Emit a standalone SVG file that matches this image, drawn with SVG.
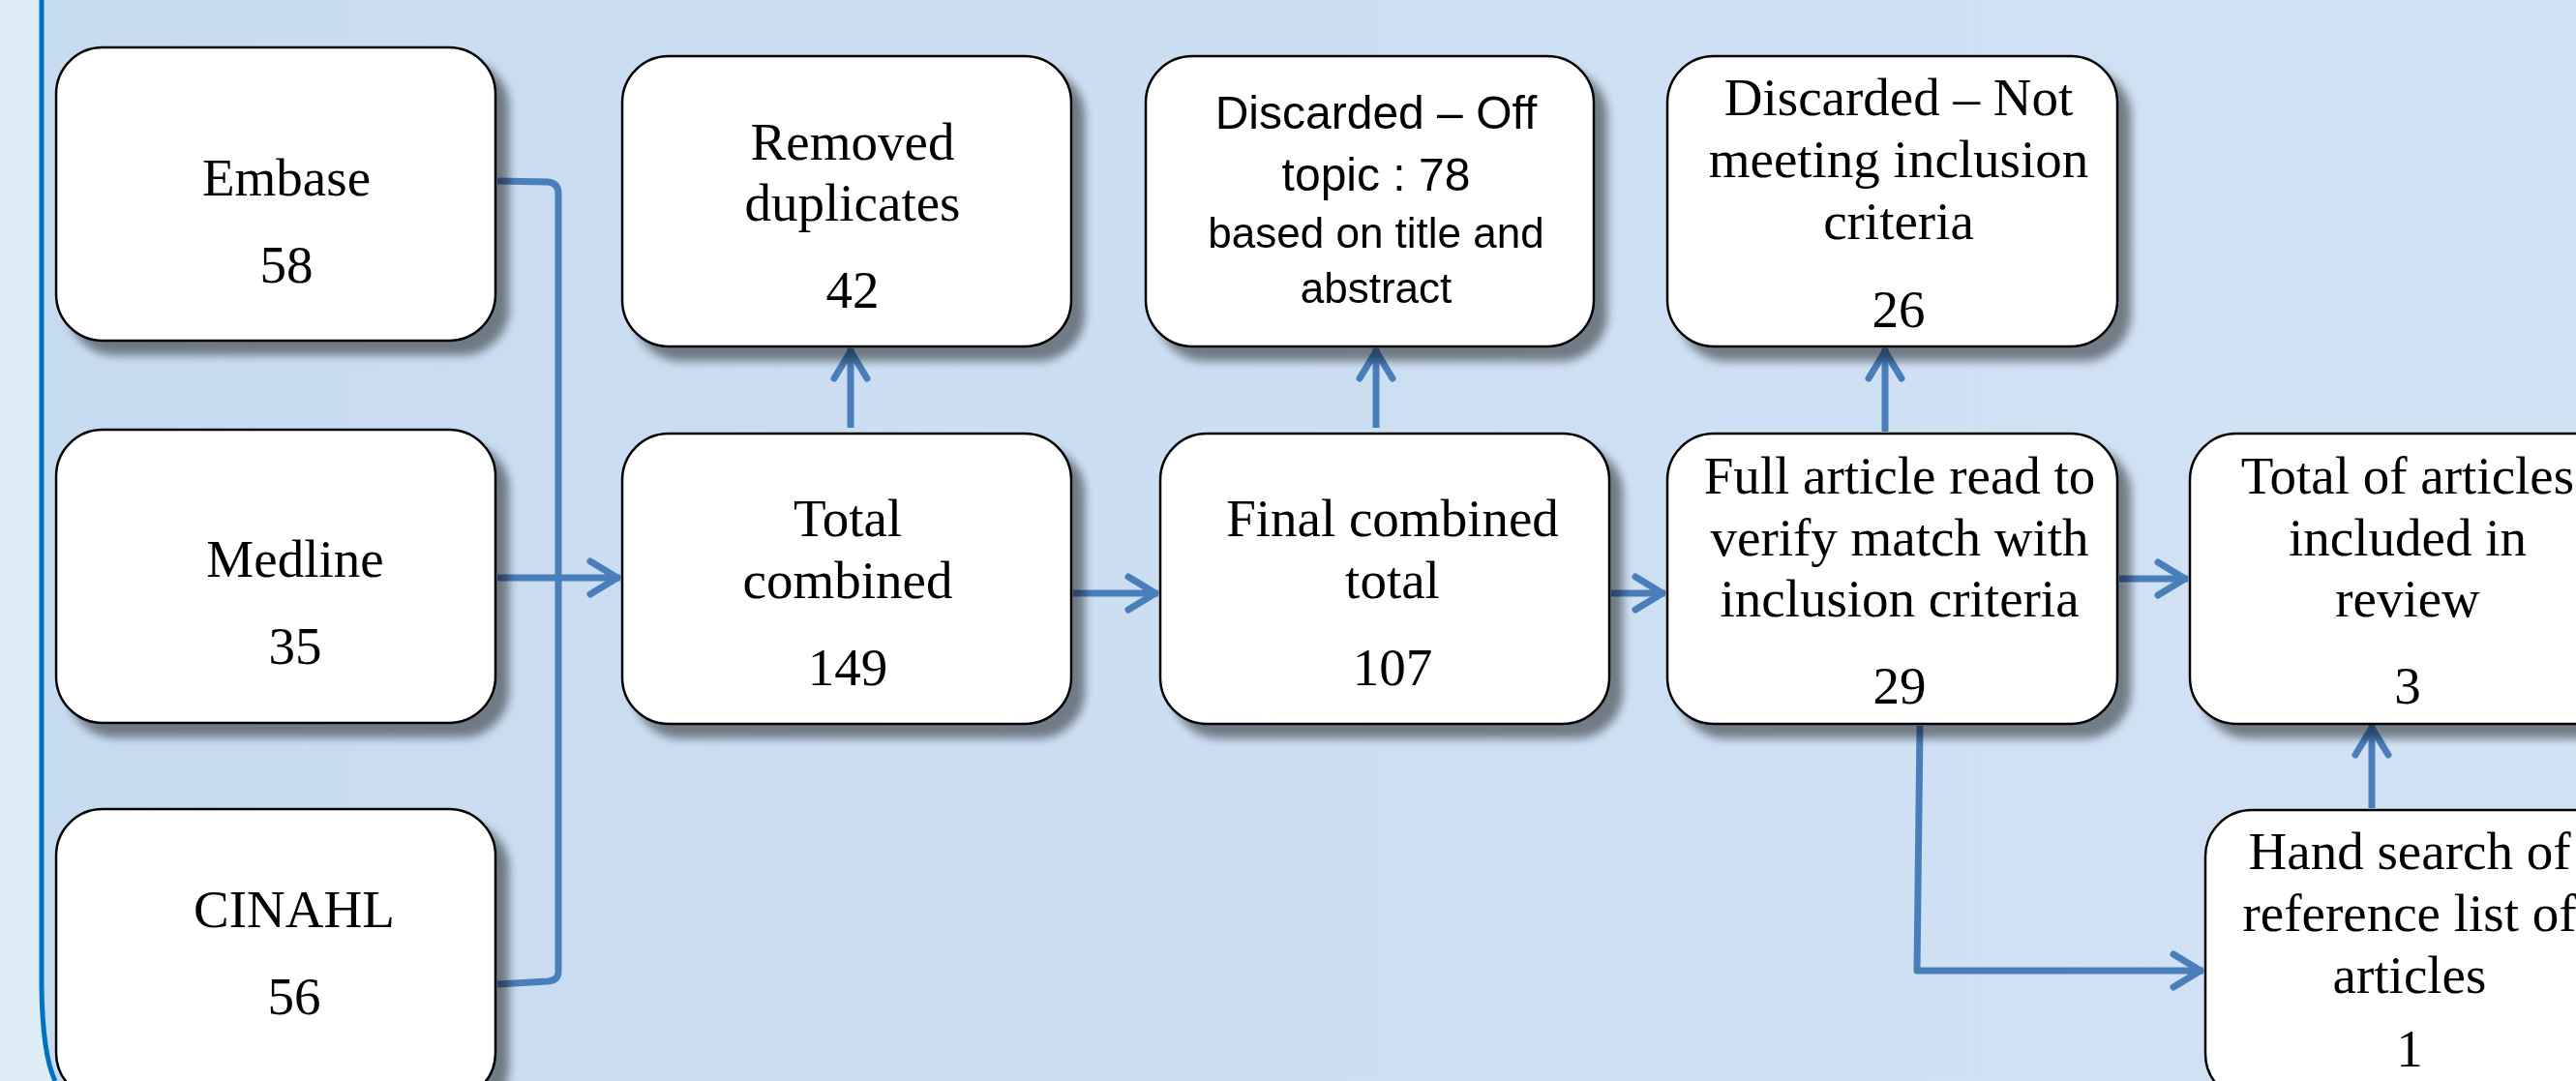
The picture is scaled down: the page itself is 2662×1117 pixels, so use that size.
<svg xmlns="http://www.w3.org/2000/svg" width="2662" height="1117" viewBox="0 0 2662 1117">
<defs>
<linearGradient id="bg" x1="0" y1="0" x2="1" y2="0">
<stop offset="0" stop-color="#c7dbf0"/>
<stop offset="1" stop-color="#d1e2f4"/>
</linearGradient>
<filter id="sh" x="-10%" y="-10%" width="130%" height="130%">
<feGaussianBlur in="SourceAlpha" stdDeviation="5" result="b"/>
<feOffset in="b" dx="13" dy="14" result="o"/>
<feComponentTransfer in="o" result="s"><feFuncA type="linear" slope="0.45"/></feComponentTransfer>
<feMerge><feMergeNode in="s"/><feMergeNode in="SourceGraphic"/></feMerge>
</filter>
<marker id="ah" markerUnits="userSpaceOnUse" viewBox="-40 -25 50 50" markerWidth="50" markerHeight="50" refX="0" refY="0" orient="auto">
<path d="M-31,-17 L-3,0 L-31,17" fill="none" stroke="#4a7ebb" stroke-width="7" stroke-linecap="round" stroke-linejoin="round"/>
</marker>
</defs>
<style>
.box{fill:#fff;stroke:#000;stroke-width:2.5}
.t{font-family:"Liberation Serif","Times New Roman",serif;font-size:55px;text-anchor:middle;fill:#000}
.s{font-family:"Liberation Sans",Arial,sans-serif;font-size:48px;text-anchor:middle;fill:#000}
.s2{font-family:"Liberation Sans",Arial,sans-serif;font-size:44px;text-anchor:middle;fill:#000}
.c{fill:none;stroke:#4a7ebb;stroke-width:7;stroke-linejoin:round}
</style>
<rect x="0" y="0" width="2662" height="1117" fill="url(#bg)"/>
<path d="M0,0 L43,0 L43,1020 Q44,1090 57,1117 L0,1117 Z" fill="#dcedf6"/>
<path d="M43,0 L43,1020 Q44,1090 57,1117" fill="none" stroke="#0070c0" stroke-width="5"/>
<g id="connectors">
<path class="c" d="M514,187 L566,188 Q577,189 577,200 L577,1004 Q577,1013 566,1014 L514,1017"/>
<path class="c" d="M514,597 L641,597" marker-end="url(#ah)"/>
<path class="c" d="M1109,613 L1197,613" marker-end="url(#ah)"/>
<path class="c" d="M1665,613 L1721,613" marker-end="url(#ah)"/>
<path class="c" d="M2190,598 L2261,598" marker-end="url(#ah)"/>
<path class="c" d="M1984,750 L1981,1003 L2277,1003" marker-end="url(#ah)"/>
<path class="c" d="M879,442 L879,360" marker-end="url(#ah)"/>
<path class="c" d="M1422,442 L1422,360" marker-end="url(#ah)"/>
<path class="c" d="M1948,446 L1948,360" marker-end="url(#ah)"/>
<path class="c" d="M2451,835 L2451,749" marker-end="url(#ah)"/>
</g>
<g id="embase" filter="url(#sh)">
<rect class="box" x="58" y="49" width="454" height="303" rx="48"/>
<text class="t" x="296" y="202">Embase</text>
<text class="t" x="296" y="292">58</text>
</g>
<g id="medline" filter="url(#sh)">
<rect class="box" x="58" y="444" width="454" height="303" rx="48"/>
<text class="t" x="305" y="596">Medline</text>
<text class="t" x="305" y="686">35</text>
</g>
<g id="cinahl" filter="url(#sh)">
<rect class="box" x="58" y="836" width="454" height="300" rx="48"/>
<text class="t" x="304" y="958">CINAHL</text>
<text class="t" x="304" y="1048">56</text>
</g>
<g id="removed" filter="url(#sh)">
<rect class="box" x="643" y="58" width="464" height="300" rx="48"/>
<text class="t" x="881" y="165">Removed</text>
<text class="t" x="881" y="228">duplicates</text>
<text class="t" x="881" y="318">42</text>
</g>
<g id="total-combined" filter="url(#sh)">
<rect class="box" x="643" y="448" width="464" height="300" rx="48"/>
<text class="t" x="876" y="554">Total</text>
<text class="t" x="876" y="618">combined</text>
<text class="t" x="876" y="708">149</text>
</g>
<g id="discarded-off" filter="url(#sh)">
<rect class="box" x="1184" y="58" width="463" height="300" rx="48"/>
<text class="s" x="1422" y="133">Discarded – Off</text>
<text class="s" x="1422" y="197">topic : 78</text>
<text class="s2" x="1422" y="256">based on title and</text>
<text class="s2" x="1422" y="313">abstract</text>
</g>
<g id="final" filter="url(#sh)">
<rect class="box" x="1199" y="448" width="464" height="300" rx="48"/>
<text class="t" x="1439" y="554">Final combined</text>
<text class="t" x="1439" y="618">total</text>
<text class="t" x="1439" y="708">107</text>
</g>
<g id="discarded-not" filter="url(#sh)">
<rect class="box" x="1723" y="58" width="465" height="300" rx="48"/>
<text class="t" x="1962" y="119">Discarded – Not</text>
<text class="t" x="1962" y="183">meeting inclusion</text>
<text class="t" x="1962" y="247">criteria</text>
<text class="t" x="1962" y="338">26</text>
</g>
<g id="full-article" filter="url(#sh)">
<rect class="box" x="1723" y="448" width="465" height="300" rx="48"/>
<text class="t" x="1963" y="510">Full article read to</text>
<text class="t" x="1963" y="574">verify match with</text>
<text class="t" x="1963" y="637">inclusion criteria</text>
<text class="t" x="1963" y="727">29</text>
</g>
<g id="total-articles" filter="url(#sh)">
<rect class="box" x="2263" y="448" width="464" height="300" rx="48"/>
<text class="t" x="2488" y="510">Total of articles</text>
<text class="t" x="2488" y="574">included in</text>
<text class="t" x="2488" y="637">review</text>
<text class="t" x="2488" y="727">3</text>
</g>
<g id="hand-search" filter="url(#sh)">
<rect class="box" x="2279" y="837" width="464" height="300" rx="48"/>
<text class="t" x="2490" y="898">Hand search of</text>
<text class="t" x="2490" y="962">reference list of</text>
<text class="t" x="2490" y="1026">articles</text>
<text class="t" x="2490" y="1102">1</text>
</g>
</svg>
